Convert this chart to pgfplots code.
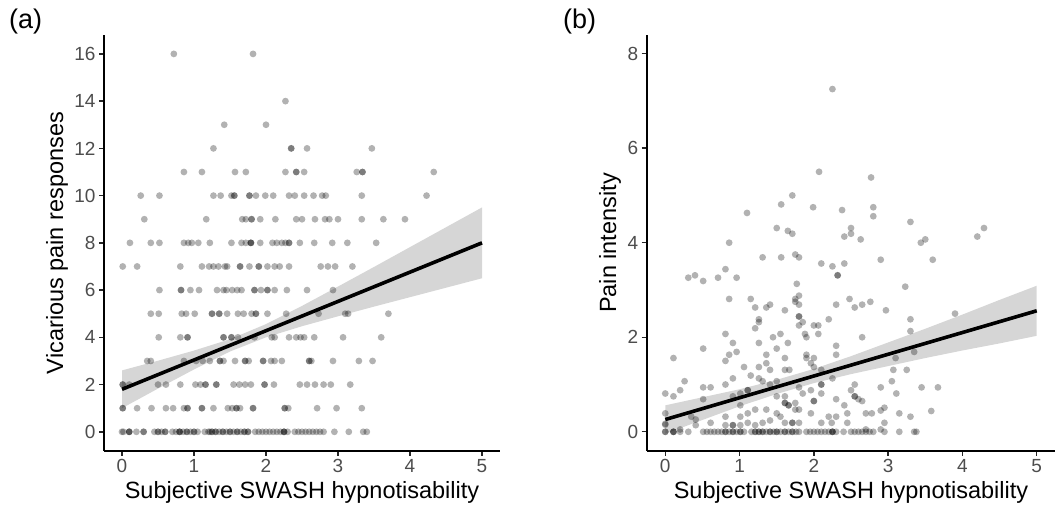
\documentclass[border=0pt]{standalone}
\usepackage{fontspec}
\setmainfont{Liberation Sans}
\usepackage{pgfplots}
\pgfplotsset{compat=1.18}
\definecolor{tickgray}{HTML}{4D4D4D}
\pgfplotsset{
 myax/.style={
  scale only axis, axis lines=left, axis line style={-, line width=1.6pt, black},
  tick align=outside, major tick length=5pt,
  every tick/.style={line width=1.4pt, black!85},
  tick label style={font=\fontsize{19}{19}\selectfont, text=tickgray},
  /pgf/number format/assume math mode=true,
  xmin=-0.25, xmax=5.25, xtick={0,1,2,3,4,5},
  anchor=south west,
 },
 pts/.style={only marks, mark=*, mark size=3.4pt, mark options={solid, fill=black, draw opacity=0, fill opacity=0.3}},
 band/.style={fill=black!40, fill opacity=0.4, draw=none},
 fit/.style={black, line width=3.6pt},
}
\begin{document}
\begin{tikzpicture}
\path[use as bounding box] (0,0) rectangle (1059pt,-511pt);
% ---------------- panel (a)
\begin{axis}[myax, at={(104pt,-450.7pt)}, width=396pt, height=415.7pt,
  ymin=-0.8, ymax=16.8, ytick={0,2,4,6,8,10,12,14,16}]
\addplot[pts] coordinates {
(0.72,16)(1.82,16)
(2.27,14)
(1.42,13)(2.00,13)
(1.27,12)(2.35,12)(2.35,12)(2.57,12)(3.47,12)
(0.86,11)(1.11,11)(1.57,11)(1.72,11)(2.27,11)(2.42,11)(2.42,11)(2.53,11)(3.26,11)(3.34,11)(3.34,11)(4.33,11)
(0.26,10)(0.52,10)(1.27,10)(1.37,10)(1.52,10)(1.56,10)(1.56,10)(1.77,10)(1.77,10)(1.86,10)(1.99,10)(2.10,10)(2.32,10)(2.40,10)(2.53,10)(2.66,10)(2.78,10)(2.83,10)(3.33,10)(4.23,10)
(0.31,9)(1.17,9)(1.67,9)(1.72,9)(1.80,9)(1.80,9)(1.92,9)(2.13,9)(2.42,9)(2.50,9)(2.68,9)(2.82,9)(2.88,9)(3.00,9)(3.33,9)(3.63,9)(3.93,9)
(0.11,8)(0.40,8)(0.52,8)(0.86,8)(0.92,8)(0.97,8)(1.06,8)(1.22,8)(1.52,8)(1.66,8)(1.72,8)(1.79,8)(1.79,8)(1.79,8)(1.92,8)(2.09,8)(2.15,8)(2.22,8)(2.27,8)(2.32,8)(2.32,8)(2.47,8)(2.67,8)(2.92,8)(3.13,8)(3.53,8)
(0.01,7)(0.21,7)(0.81,7)(1.11,7)(1.21,7)(1.27,7)(1.34,7)(1.43,7)(1.46,7)(1.64,7)(1.64,7)(1.77,7)(1.90,7)(1.90,7)(2.02,7)(2.12,7)(2.19,7)(2.32,7)(2.76,7)(2.86,7)(2.96,7)(3.20,7)
(0.52,6)(0.82,6)(0.82,6)(0.95,6)(1.07,6)(1.32,6)(1.41,6)(1.45,6)(1.53,6)(1.60,6)(1.66,6)(1.84,6)(1.84,6)(1.93,6)(2.02,6)(2.02,6)(2.12,6)(2.29,6)(2.57,6)(2.93,6)
(0.40,5)(0.51,5)(0.83,5)(0.89,5)(1.01,5)(1.25,5)(1.25,5)(1.35,5)(1.35,5)(1.46,5)(1.61,5)(1.69,5)(1.80,5)(1.86,5)(1.86,5)(2.02,5)(2.28,5)(2.73,5)(3.10,5)(3.14,5)(3.70,5)
(0.51,4)(0.81,4)(0.91,4)(0.91,4)(1.41,4)(1.41,4)(1.52,4)(1.52,4)(1.61,4)(1.84,4)(2.08,4)(2.12,4)(2.32,4)(2.42,4)(2.48,4)(2.53,4)(2.67,4)(3.07,4)(3.60,4)
(0.35,3)(0.40,3)(0.86,3)(1.03,3)(1.12,3)(1.22,3)(1.36,3)(1.36,3)(1.41,3)(1.57,3)(1.71,3)(1.71,3)(1.76,3)(1.96,3)(1.96,3)(2.07,3)(2.12,3)(2.22,3)(2.60,3)(2.60,3)(2.63,3)(2.93,3)(3.29,3)(3.48,3)
(0.01,2)(0.01,2)(0.10,2)(0.50,2)(0.61,2)(0.81,2)(1.02,2)(1.09,2)(1.16,2)(1.16,2)(1.31,2)(1.31,2)(1.55,2)(1.63,2)(1.71,2)(1.79,2)(1.98,2)(1.98,2)(2.11,2)(2.47,2)(2.57,2)(2.68,2)(2.80,2)(2.90,2)(3.17,2)
(0.01,1)(0.01,1)(0.21,1)(0.41,1)(0.61,1)(0.71,1)(0.86,1)(0.91,1)(0.91,1)(1.11,1)(1.11,1)(1.27,1)(1.47,1)(1.53,1)(1.59,1)(1.59,1)(1.64,1)(1.82,1)(1.82,1)(2.26,1)(2.26,1)(2.31,1)(2.71,1)(2.98,1)(3.33,1)
(0.00,0)(0.02,0)(0.10,0)(0.10,0)(0.10,0)(0.20,0)(0.30,0)(0.30,0)(0.45,0)(0.50,0)(0.50,0)(0.55,0)(0.60,0)(0.60,0)(0.70,0)(0.75,0)(0.80,0)(0.80,0)(0.80,0)(0.85,0)(0.90,0)(0.90,0)(0.95,0)(1.00,0)(1.00,0)(1.05,0)(1.15,0)(1.20,0)(1.22,0)(1.25,0)(1.25,0)(1.30,0)(1.30,0)(1.35,0)(1.40,0)(1.40,0)(1.45,0)(1.50,0)(1.50,0)(1.55,0)(1.60,0)(1.60,0)(1.65,0)(1.70,0)(1.70,0)(1.75,0)(1.75,0)(1.85,0)(1.90,0)(1.95,0)(2.00,0)(2.05,0)(2.10,0)(2.15,0)(2.20,0)(2.25,0)(2.25,0)(2.25,0)(2.30,0)(2.40,0)(2.45,0)(2.50,0)(2.55,0)(2.60,0)(2.65,0)(2.70,0)(2.75,0)(2.80,0)(2.95,0)(3.15,0)(3.35,0)(3.40,0)
};
\addplot[band] coordinates {
(0,2.60)(0.5,3.01)(1,3.44)(1.5,3.92)(2,4.56)(2.5,5.33)(3,6.15)(3.5,6.98)(4,7.82)(4.5,8.66)(5,9.50)
(5,6.50)(4.5,6.10)(4,5.70)(3.5,5.30)(3,4.89)(2.5,4.47)(2,4.00)(1.5,3.40)(1,2.64)(0.5,1.83)(0,1.00)
};
\addplot[fit] coordinates {(0,1.80)(5,8.00)};
\end{axis}
% ---------------- panel (b)
\begin{axis}[myax, at={(646.7pt,-450.7pt)}, width=408.6pt, height=416pt,
  ymin=-0.4, ymax=8.4, ytick={0,2,4,6,8}]
\addplot[pts] coordinates {
(2.25,7.25)(2.07,5.50)(2.77,5.38)(1.71,5.00)(1.56,4.81)(1.99,4.75)(2.80,4.75)(2.38,4.69)(1.10,4.63)(2.80,4.56)
(3.30,4.44)(1.50,4.31)(2.50,4.31)(4.29,4.31)(1.65,4.25)(1.71,4.19)(2.50,4.19)(2.41,4.13)(4.20,4.13)(2.63,4.07)
(3.50,4.07)(3.44,4.00)(0.86,4.00)(1.31,3.69)(1.56,3.69)(1.75,3.75)(1.80,3.69)(2.90,3.64)(3.60,3.64)
(2.10,3.56)(2.25,3.50)(2.41,3.56)(2.32,3.31)(2.32,3.31)(0.31,3.26)(0.40,3.31)(0.51,3.19)(0.71,3.26)(0.81,3.44)(0.96,3.26)
(1.77,3.13)(3.23,3.07)(0.86,2.81)(1.15,2.81)(1.75,2.81)(1.80,2.88)(1.80,2.69)(1.75,2.75)(2.30,2.69)(2.48,2.81)(2.55,2.63)
(2.65,2.69)(2.76,2.75)(1.21,2.63)(1.36,2.63)(1.41,2.69)(1.61,2.57)(2.97,2.57)(3.90,2.50)(1.80,2.44)(1.80,2.44)
(1.26,2.38)(1.26,2.32)(2.20,2.38)(3.30,2.38)(1.21,2.19)(1.85,2.32)(1.80,2.25)(2.00,2.25)(2.06,2.25)(0.81,2.07)
(3.30,2.13)(1.55,2.07)(1.45,2.00)(1.88,2.07)(1.90,2.00)(2.65,2.00)(2.06,2.07)(0.91,1.88)(1.26,1.88)(1.65,1.88)
(2.30,1.82)(0.51,1.76)(1.50,1.76)(0.86,1.63)(0.96,1.69)(0.81,1.50)(1.36,1.63)(1.61,1.56)(1.90,1.63)(1.90,1.56)
(2.00,1.56)(2.30,1.63)(3.10,1.56)(3.35,1.69)(0.11,1.56)(1.06,1.37)(1.26,1.37)(1.36,1.45)(1.41,1.31)(1.61,1.31)
(1.67,1.31)(1.96,1.45)(2.00,1.37)(2.10,1.31)(3.07,1.31)(3.25,1.31)(1.15,1.19)(0.91,1.13)(1.26,1.13)(1.31,1.07)
(2.25,1.13)(0.26,1.07)(0.81,1.00)(1.41,1.00)(1.50,1.07)(2.10,1.00)(2.10,1.00)(3.05,1.07)(2.55,1.00)(0.20,0.88)
(0.51,0.94)(0.61,0.94)(1.11,0.88)(1.11,0.88)(1.01,0.81)(1.80,0.94)(1.85,0.81)(1.96,0.88)(2.10,0.81)(2.50,0.88)
(2.90,0.94)(3.11,0.81)(3.45,0.94)(3.67,0.94)(0.00,0.81)(0.11,0.75)(0.51,0.69)(0.91,0.75)(1.50,0.75)(1.61,0.75)
(2.55,0.75)(2.55,0.75)(2.60,0.69)(1.75,0.61)(1.61,0.61)(1.61,0.61)(1.66,0.56)(1.66,0.56)(1.01,0.56)(2.00,0.65)
(2.00,0.65)(2.30,0.69)(2.41,0.56)(2.65,0.65)(1.21,0.47)(1.36,0.47)(1.75,0.47)(1.80,0.47)(2.95,0.51)(2.90,0.45)
(3.58,0.44)(2.70,0.39)(2.78,0.39)(3.15,0.39)(3.30,0.32)(0.00,0.39)(0.35,0.32)(0.41,0.26)(0.81,0.32)(1.01,0.32)
(1.11,0.39)(1.50,0.39)(1.55,0.32)(1.96,0.39)(2.20,0.32)(2.45,0.39)(2.30,0.32)(0.61,0.19)(0.81,0.14)(0.91,0.14)
(0.91,0.14)(1.01,0.14)(1.11,0.19)(1.21,0.14)(1.31,0.19)(1.41,0.24)(1.61,0.19)(1.71,0.19)(1.71,0.19)(1.80,0.19)
(2.10,0.19)(2.24,0.19)(2.45,0.19)(2.95,0.19)(0.00,0.17)(0.00,0.15)(0.20,0.05)(0.41,0.14)(2.70,0.05)(2.90,0.05)
(0.00,0)(0.00,0)(0.11,0)(0.11,0)(0.11,0)(0.20,0)(0.31,0)(0.51,0)(0.56,0)(0.61,0)(0.66,0)(0.71,0)(0.76,0)(0.81,0)(0.81,0)
(0.86,0)(0.91,0)(0.91,0)(0.96,0)(1.01,0)(1.01,0)(1.06,0)(1.16,0)(1.21,0)(1.21,0)(1.26,0)(1.26,0)(1.31,0)(1.31,0)(1.36,0)
(1.41,0)(1.41,0)(1.46,0)(1.50,0)(1.50,0)(1.55,0)(1.61,0)(1.61,0)(1.66,0)(1.71,0)(1.71,0)(1.76,0)(1.80,0)(1.90,0)(1.95,0)
(2.00,0)(2.05,0)(2.10,0)(2.15,0)(2.20,0)(2.25,0)(2.25,0)(2.25,0)(2.30,0)(2.40,0)(2.50,0)(2.55,0)(2.60,0)(2.65,0)(2.70,0)
(2.75,0)(2.80,0)(2.95,0)(3.15,0)(3.35,0)(3.38,0)
};
\addplot[band] coordinates {
(0,0.56)(0.5,0.73)(1,0.90)(1.5,1.10)(2,1.33)(2.5,1.60)(3,1.89)(3.5,2.18)(4,2.48)(4.5,2.79)(5,3.09)
(5,2.03)(4.5,1.87)(4,1.72)(3.5,1.56)(3,1.39)(2.5,1.22)(2,1.03)(1.5,0.80)(1,0.54)(0.5,0.25)(0,-0.04)
};
\addplot[fit] coordinates {(0,0.26)(5,2.56)};
\end{axis}
% ---------------- labels
\node[anchor=base, font=\fontsize{23.5}{24}\selectfont] at (302pt,-498pt) {Subjective SWASH hypnotisability};
\node[anchor=base, font=\fontsize{23.5}{24}\selectfont] at (851pt,-498pt) {Subjective SWASH hypnotisability};
\node[rotate=90, anchor=base, font=\fontsize{23.5}{24}\selectfont] at (63pt,-243pt) {Vicarious pain responses};
\node[rotate=90, anchor=base, font=\fontsize{23.5}{24}\selectfont] at (616pt,-243pt) {Pain intensity};
\node[anchor=west, inner sep=0pt, font=\fontsize{27}{27}\selectfont] at (9pt,-22pt) {(a)};
\node[anchor=west, inner sep=0pt, font=\fontsize{27}{27}\selectfont] at (563pt,-22pt) {(b)};
\end{tikzpicture}
\end{document}
